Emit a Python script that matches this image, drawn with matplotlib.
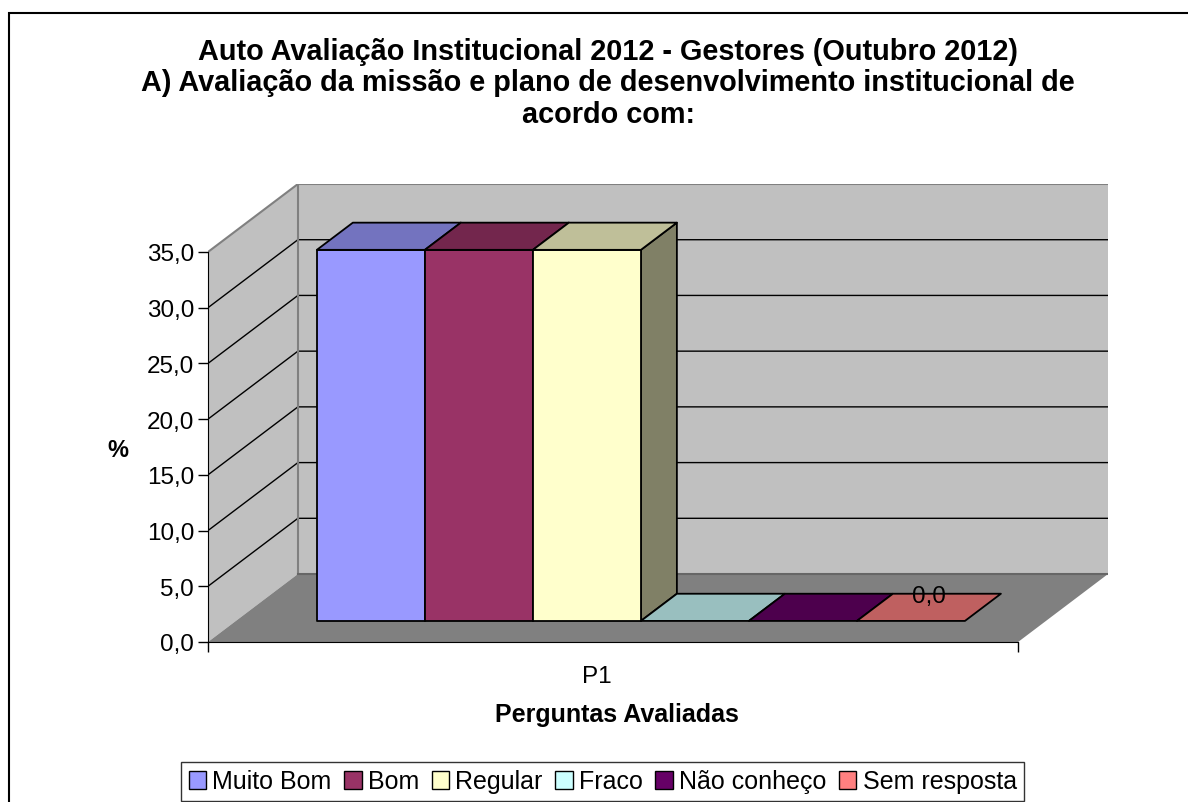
import numpy as np
import matplotlib.pyplot as plt
from matplotlib.patches import Polygon, Rectangle
from matplotlib.colors import to_rgb

plt.rcParams['font.family'] = ['Liberation Sans', 'DejaVu Sans']

# dados
series = ['Muito Bom', 'Bom', 'Regular', 'Fraco', 'Não conheço', 'Sem resposta']
values = [33.3, 33.3, 33.3, 0.0, 0.0, 0.0]
colors = ['#9999ff', '#993366', '#ffffcc', '#ccffff', '#660066', '#ff8080']
category = 'P1'
yticks = np.arange(0, 36, 5)
ymax = 35

# geometria do "3D" (deslocamento da parede do fundo)
DX, DY = 0.111, 6.1
F0, F1 = 0.31, 0.71   # profundidade das barras


def proj(x, v, d):
    return (x + d * DX, v + d * DY)


def shade(c, k):
    return tuple(k * np.array(to_rgb(c)))


fig = plt.figure(figsize=(11.88, 8.03), dpi=100)
ax = fig.add_axes([208 / 1188, 160 / 803, 900 / 1188, 458 / 803])
ax.set_xlim(0, 1 + DX)
ax.set_ylim(0, ymax + DY)
ax.patch.set_alpha(0)

# paredes e chao
wall = '#c0c0c0'
ax.add_patch(Polygon([proj(0, 0, 0), proj(0, ymax, 0), proj(0, ymax, 1), proj(0, 0, 1)],
                     fc=wall, ec='none', zorder=0))
ax.add_patch(Polygon([proj(0, 0, 1), proj(1, 0, 1), proj(1, ymax, 1), proj(0, ymax, 1)],
                     fc=wall, ec='none', zorder=0))
ax.add_patch(Polygon([proj(0, 0, 0), proj(1, 0, 0), proj(1, 0, 1), proj(0, 0, 1)],
                     fc='#808080', ec='none', zorder=0))
for v in yticks[1:-1]:
    ax.plot(*zip(proj(0, v, 0), proj(0, v, 1), proj(1, v, 1)), color='black', lw=1, zorder=1)
ax.plot(*zip(proj(0, ymax, 0), proj(0, ymax, 1), proj(1, ymax, 1)), color='#808080', lw=1.5, zorder=1)
ax.plot(*zip(proj(0, 0, 1), proj(0, ymax, 1)), color='#808080', lw=1.5, zorder=1)
ax.plot(*zip(proj(0, 0, 1), proj(1, 0, 1)), color='#666666', lw=1.5, zorder=1)

# barras
n = len(values)
w = 0.8 / n
for i, (v, c) in enumerate(zip(values, colors)):
    x0 = 0.1 + i * w
    x1 = x0 + w
    z = 2 + i * 0.1
    kw = dict(ec='black', lw=1.3, joinstyle='round', zorder=z)
    if v > 0:
        ax.add_patch(Polygon([proj(x1, 0, F0), proj(x1, 0, F1), proj(x1, v, F1), proj(x1, v, F0)],
                             fc=shade(c, 0.5), **kw))
        ax.add_patch(Polygon([proj(x0, 0, F0), proj(x1, 0, F0), proj(x1, v, F0), proj(x0, v, F0)],
                             fc=c, **kw))
    ax.add_patch(Polygon([proj(x0, v, F0), proj(x1, v, F0), proj(x1, v, F1), proj(x0, v, F1)],
                         fc=shade(c, 0.75), **kw))

# rotulo de dado (so o ultimo aparece)
xl, yl = proj(0.1 + (n - 0.5) * w, values[-1], (F0 + F1) / 2)
ax.text(xl, yl, f'{values[-1]:.1f}'.replace('.', ','), ha='center', va='bottom',
        fontsize=17.5, zorder=5)

# eixos
for s in ['top', 'right']:
    ax.spines[s].set_visible(False)
ax.spines['left'].set_bounds(0, ymax)
ax.spines['bottom'].set_bounds(0, 1)
ax.set_yticks(yticks)
ax.set_yticklabels([f'{t:.1f}'.replace('.', ',') for t in yticks], fontsize=17.5)
ax.tick_params(axis='y', length=7, width=1, pad=3)
ax.set_xticks([0, 1])
ax.set_xticklabels(['', ''])
ax.tick_params(axis='x', length=7, width=1)
ax.text(0.48, -0.075, category, transform=ax.get_xaxis_transform(), ha='center', va='center',
        fontsize=17.5)

# textos
tfont = dict(ha='center', va='center', fontsize=20.8, fontweight='bold')
fig.text(608 / 1188, 1 - 52 / 803, 'Auto Avaliação Institucional 2012 - Gestores (Outubro 2012)', **tfont)
fig.text(608 / 1188, 1 - 83 / 803, 'A) Avaliação da missão e plano de desenvolvimento institucional de', **tfont)
fig.text(608 / 1188, 1 - 115 / 803, 'acordo com:', **tfont)
fig.text(118 / 1188, 1 - 451 / 803, '%', ha='center', va='center', fontsize=17, fontweight='bold')
fig.text(617 / 1188, 1 - 715 / 803, 'Perguntas Avaliadas', ha='center', va='center',
         fontsize=18, fontweight='bold')

# legenda
handles = [Rectangle((0, 0), 1, 1, fc=c, ec='black', lw=1) for c in colors]
fig.legend(handles, series, loc='upper left', bbox_to_anchor=(181 / 1188, 1 - 763 / 803),
           ncol=n, fontsize=18, frameon=True, fancybox=False, edgecolor='black',
           handlelength=0.7, handleheight=0.7, handletextpad=0.25, columnspacing=0.5,
           borderpad=0.3, borderaxespad=0)

# moldura do grafico
fig.add_artist(Rectangle((9 / 1188, -0.1), 2, 1 - 14 / 803 + 0.1, transform=fig.transFigure,
                         fill=False, ec='black', lw=1.5))

fig.savefig('out.png', dpi=100)
